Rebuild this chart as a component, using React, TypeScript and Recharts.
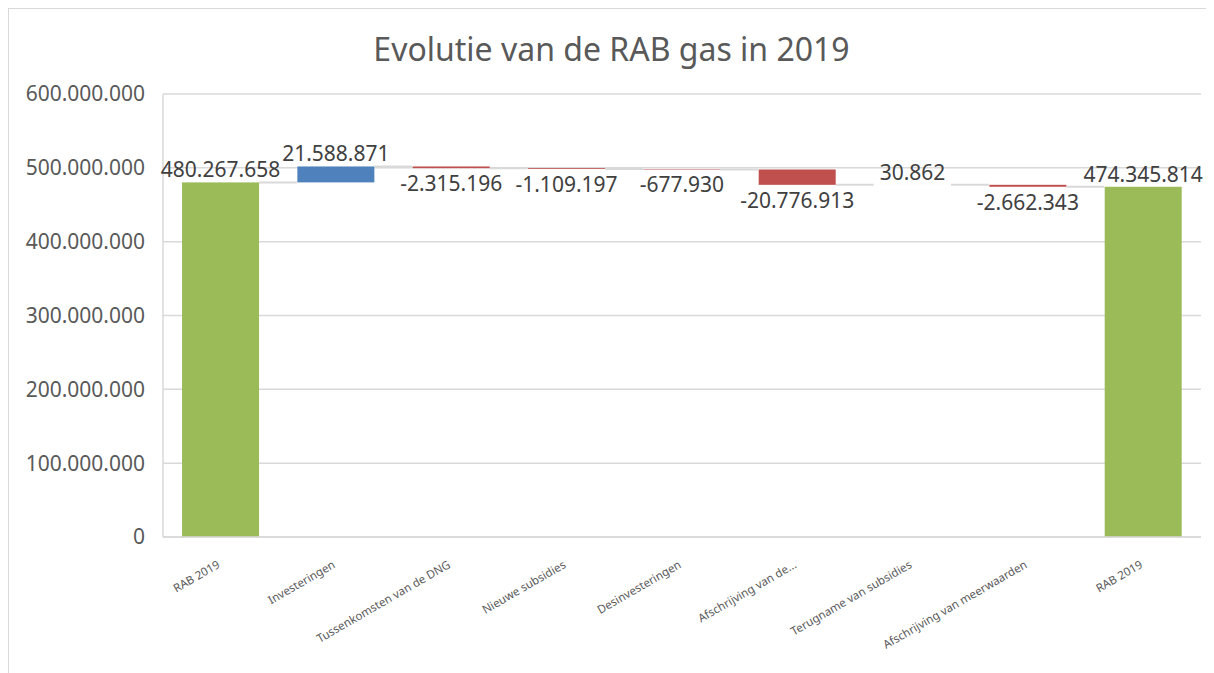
import { Bar, BarChart, CartesianGrid, LabelList, XAxis, YAxis } from "recharts"

const categories = [
  "RAB 2019",
  "Investeringen",
  "Tussenkomsten van de DNG",
  "Nieuwe subsidies",
  "Desinvesteringen",
  "Afschrijving van de...",
  "Terugname van subsidies",
  "Afschrijving van meerwaarden",
  "RAB 2019",
]

const values = [480267658, 21588871, -2315196, -1109197, -677930, -20776913, 30862, -2662343, 474345814]

const isTotal = [true, false, false, false, false, false, false, false, true]

const yTicks = [0, 100000000, 200000000, 300000000, 400000000, 500000000, 600000000]

const GREEN = "#9BBB59"
const BLUE = "#4F81BD"
const RED = "#C0504D"
const GRID = "#D9D9D9"
const FONT = "'Noto Sans', 'Open Sans', sans-serif"
const GAP = 0.165

// dutch style thousands: 480.267.658
const fmt = (v: number) => {
  const s = Math.abs(Math.round(v)).toString().replace(/\B(?=(\d{3})+(?!\d))/g, ".")
  return v < 0 ? "-" + s : s
}

// build waterfall table: invisible base + visible delta
let running = 0
const chartData = categories.map((name, i) => {
  const v = values[i]
  let base = 0
  let delta = 0
  if (isTotal[i]) {
    base = 0
    delta = v
    running = v
  } else if (v >= 0) {
    base = running
    delta = v
    running += v
  } else {
    base = running + v
    delta = -v
    running += v
  }
  return {
    key: i,
    name,
    base,
    delta,
    value: v,
    color: isTotal[i] ? GREEN : v >= 0 ? BLUE : RED,
  }
})

const DeltaShape = (props: any) => {
  const { x, y, width, height, index, payload } = props
  const h = Math.max(height, 0)
  const endY = payload.value < 0 && !isTotal[index] ? y + h : y
  const gap = (width * 2 * GAP) / (1 - 2 * GAP)
  return (
    <g>
      {index < categories.length - 1 && (
        <line x1={x + width} x2={x + width + gap} y1={endY} y2={endY} stroke={GRID} strokeWidth={2} />
      )}
      <rect x={x} y={y} width={width} height={h} fill={payload.color} />
    </g>
  )
}

const ValueLabel = (props: any) => {
  const { x, y, width, height, index } = props
  const v = values[index]
  const below = v < 0 && !isTotal[index]
  const cx = x + width / 2
  const ty = below ? y + Math.max(height, 0) + 23 : y - 5
  return (
    <text x={cx} y={ty} textAnchor="middle" fill="#404040" fontSize={21} fontFamily={FONT}>
      {fmt(v)}
    </text>
  )
}

const XTick = (props: any) => {
  const { x, y, payload } = props
  return (
    <g transform={`translate(${x},${y + 30})`}>
      <text textAnchor="end" transform="rotate(-30)" fill="#595959" fontSize={11.5} fontFamily={FONT}>
        {categories[payload.index] ?? payload.value}
      </text>
    </g>
  )
}

export default function App() {
  return (
    <div
      style={{
        position: "relative",
        width: 1205,
        height: 664,
        borderTop: `1px solid ${GRID}`,
        borderLeft: `1px solid ${GRID}`,
        background: "#fff",
      }}
    >
      <div
        style={{
          position: "absolute",
          top: 18,
          left: 0,
          width: 1205,
          textAlign: "center",
          fontFamily: FONT,
          fontSize: 32,
          color: "#595959",
        }}
      >
        Evolutie van de RAB gas in 2019
      </div>
      <div style={{ position: "absolute", left: 0, top: 0 }}>
        <BarChart
          width={1205}
          height={664}
          data={chartData}
          margin={{ top: 85, right: 13, bottom: 0, left: 0 }}
          barCategoryGap={`${GAP * 100}%`}
        >
          <CartesianGrid vertical={false} stroke={GRID} strokeWidth={1.5} />
          <XAxis
            dataKey="key"
            interval={0}
            tick={<XTick />}
            tickLine={false}
            tickSize={0}
            tickMargin={0}
            height={136}
            axisLine={{ stroke: GRID, strokeWidth: 1.5 }}
          />
          <YAxis
            domain={[0, 600000000]}
            ticks={yTicks}
            tickFormatter={fmt}
            width={154}
            tickLine={false}
            tickSize={0}
            tickMargin={18}
            axisLine={{ stroke: GRID, strokeWidth: 1.5 }}
            tick={{ fill: "#595959", fontSize: 21, fontFamily: FONT }}
          />
          <Bar dataKey="base" stackId="w" fill="transparent" isAnimationActive={false} />
          <Bar dataKey="delta" stackId="w" shape={<DeltaShape />} isAnimationActive={false}>
            <LabelList dataKey="delta" content={<ValueLabel />} />
          </Bar>
        </BarChart>
      </div>
    </div>
  )
}
